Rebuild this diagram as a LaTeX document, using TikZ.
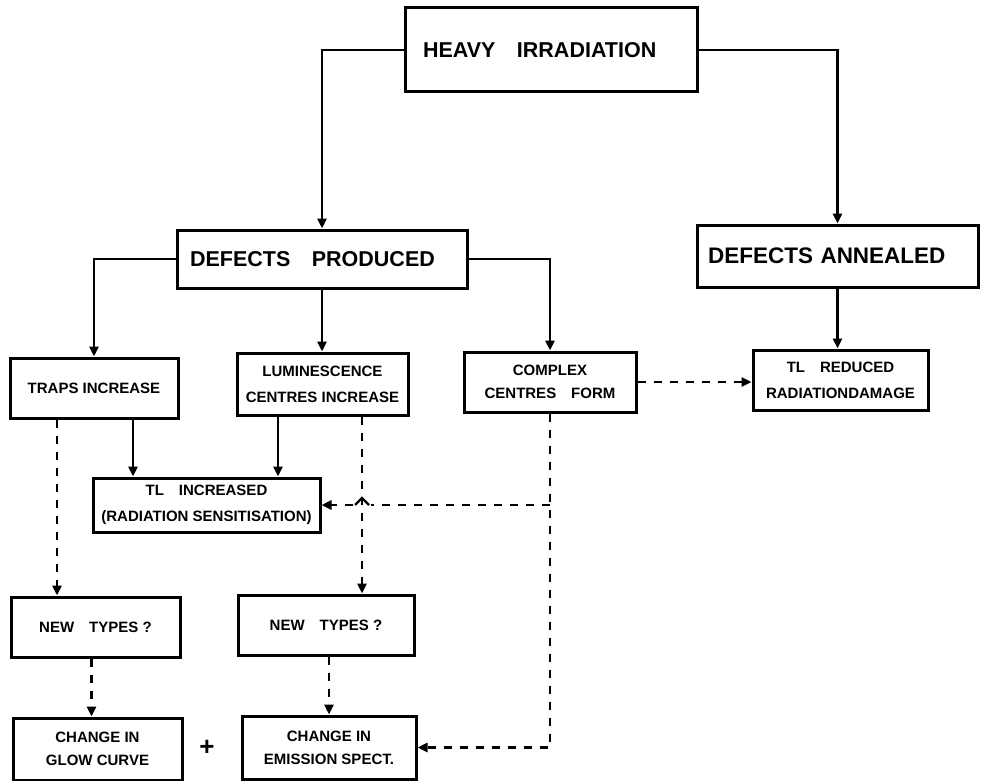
\documentclass[tikz,border=0pt]{standalone}
\usepackage{fontspec}
\setmainfont{Liberation Sans}
\usetikzlibrary{arrows.meta}
\begin{document}
\begin{tikzpicture}[x=1pt,y=-1pt,
  box/.style={draw, line width=3pt, inner sep=0pt, align=center,
    font=\bfseries\fontsize{15}{26}\selectfont},
  bigtxt/.style={font=\bfseries\fontsize{21.5}{24}\selectfont},
  conn/.style={line width=2.5pt},
  arr/.style={conn, -{Triangle[length=10pt,width=9pt]}},
  dline/.style={conn, dash pattern=on 8pt off 8pt},
  darr/.style={arr, dash pattern=on 8pt off 8pt}]
\useasboundingbox (0,0) rectangle (983,781);

% top level
\node[box, bigtxt, minimum width=292pt, minimum height=84pt, text width=256pt, align=left]
  (hi) at (551,50) {HEAVY\quad IRRADIATION};
\node[box, bigtxt, minimum width=290pt, minimum height=58pt, text width=264pt, align=left]
  (dp) at (322,259) {DEFECTS\quad PRODUCED};
\node[box, font=\bfseries\fontsize{22.5}{24}\selectfont, minimum width=281pt, minimum height=62pt, text width=259pt, align=left]
  (da) at (837.5,256) {DEFECTS ANNEALED};

% third row
\node[box, minimum width=168pt, minimum height=60pt] (ti) at (94,388) {TRAPS INCREASE};
\node[box, minimum width=171pt, minimum height=62pt] (lc) at (322.5,384)
  {LUMINESCENCE\\CENTRES INCREASE};
\node[box, minimum width=172pt, minimum height=60pt, font=\bfseries\fontsize{15}{23}\selectfont]
  (cc) at (550,382) {COMPLEX\\CENTRES\quad FORM};
\node[box, minimum width=175pt, minimum height=60pt] (tr) at (840.5,380)
  {TL\quad REDUCED\\RADIATIONDAMAGE};

% fourth row
\node[box, minimum width=227pt, minimum height=54pt] (tl) at (206.5,505)
  {TL\quad INCREASED\\(RADIATION SENSITISATION)};

% fifth row
\node[box, minimum width=169pt, minimum height=60pt] (nt1) at (95.5,627) {NEW\quad TYPES ?};
\node[box, minimum width=176pt, minimum height=60pt] (nt2) at (326,625) {NEW\quad TYPES ?};

% bottom row
\node[box, minimum width=169pt, minimum height=62pt, font=\bfseries\fontsize{15}{23}\selectfont]
  (cg) at (97.5,749) {CHANGE IN\\GLOW CURVE};
\node[box, minimum width=174pt, minimum height=63pt, font=\bfseries\fontsize{15}{23}\selectfont]
  (ce) at (329,747.5) {CHANGE IN\\EMISSION SPECT.};
\node[font=\bfseries\fontsize{26}{26}\selectfont] (plus) at (207,748) {+};

% solid connectors
\draw[arr] (hi.west) -| (dp.north);
\draw[arr] (hi.east) -| (da.north);
\draw[arr] (dp.west) -| (ti.north);
\draw[arr] (dp.south) -- (dp.south |- lc.north);
\draw[arr] (dp.east) -| (cc.north);
\draw[arr] (da.south) -- (da.south |- tr.north);
\coordinate (t1) at ([xshift=39pt]ti.south);
\draw[arr] (t1) -- (t1 |- tl.north);
\coordinate (l1) at ([xshift=-44.5pt]lc.south);
\draw[arr] (l1) -- (l1 |- tl.north);

% dashed connectors
\draw[darr] (cc.east) -- (cc.east -| tr.west);
\coordinate (t2) at ([xshift=-37pt]ti.south);
\draw[darr] (t2) -- (t2 |- nt1.north);
\coordinate (lcd) at ([xshift=39.5pt]lc.south);
\draw[darr] (lcd) -- (lcd |- nt2.north);
\coordinate (n1) at ([xshift=-4pt]nt1.south);
\draw[darr] (n1) -- (n1 |- cg.north);
\draw[darr] (ce.north |- nt2.south) -- (ce.north);
\draw[darr] (cc.south) |- (ce.east);
\coordinate (j) at (cc.south |- tl.east);
\coordinate (cross) at (lcd |- tl.east);
\draw[dline] (j) -- ([xshift=9pt]cross);
\draw[darr] ([xshift=-9pt]cross) -- (tl.east);
\draw[conn, line width=2.2pt] ([xshift=7pt]cross) -- ([yshift=7pt]cross) -- ([xshift=-7pt]cross);
\end{tikzpicture}
\end{document}
